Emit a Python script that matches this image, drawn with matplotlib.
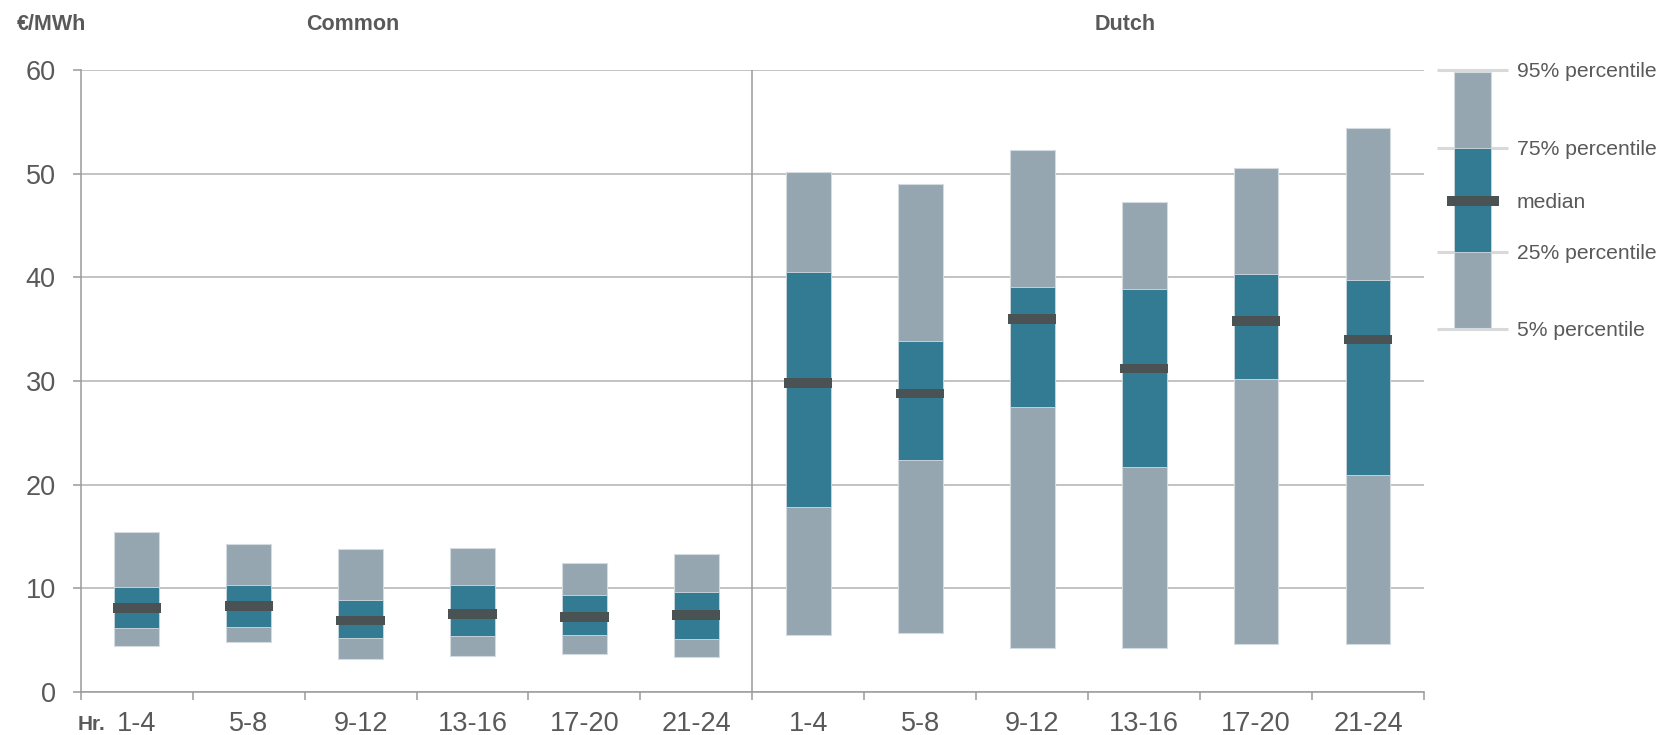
import matplotlib
matplotlib.use("Agg")
import matplotlib.pyplot as plt
import numpy as np

plt.rcParams['font.family'] = ['Liberation Sans', 'DejaVu Sans']

# Hour blocks and price percentiles (EUR/MWh)
hour_blocks = ["1-4", "5-8", "9-12", "13-16", "17-20", "21-24"]
groups = ["Common", "Dutch"]

common_p5 = [4.4, 4.8, 3.2, 3.5, 3.7, 3.4]
common_p25 = [6.2, 6.3, 5.2, 5.4, 5.5, 5.1]
common_med = [8.1, 8.3, 6.9, 7.5, 7.2, 7.4]
common_p75 = [10.1, 10.3, 8.9, 10.3, 9.4, 9.6]
common_p95 = [15.4, 14.3, 13.8, 13.9, 12.4, 13.3]

dutch_p5 = [5.5, 5.7, 4.2, 4.2, 4.6, 4.6]
dutch_p25 = [17.8, 22.4, 27.5, 21.7, 30.2, 20.9]
dutch_med = [29.8, 28.8, 36.0, 31.2, 35.8, 34.0]
dutch_p75 = [40.5, 33.9, 39.1, 38.9, 40.3, 39.7]
dutch_p95 = [50.2, 49.0, 52.3, 47.3, 50.5, 54.4]

legend_labels = ["95% percentile", "75% percentile", "median", "25% percentile", "5% percentile"]

LIGHT = "#95A6B0"
TEAL = "#337A93"
MEDIAN = "#4A5254"
EDGE = "#D3DBE0"
GRID = "#B3B3B3"
AXIS = "#9A9A9A"
TEXT = "#595959"

p5 = np.array(common_p5 + dutch_p5)
p25 = np.array(common_p25 + dutch_p25)
med = np.array(common_med + dutch_med)
p75 = np.array(common_p75 + dutch_p75)
p95 = np.array(common_p95 + dutch_p95)
labels = hour_blocks * 2
x = np.arange(len(labels))

W, H = 1662, 735
fig = plt.figure(figsize=(W / 100, H / 100), dpi=100)
ax_l, ax_r, ax_b, ax_t = 80.7, 1424, 692, 70
ax = fig.add_axes([ax_l / W, 1 - ax_b / H, (ax_r - ax_l) / W, (ax_b - ax_t) / H])

bar_w = 0.40
med_w = 0.43
med_h = 0.95

# outer (5-95%) bars
ax.bar(x, p95 - p5, bottom=p5, width=bar_w, color=LIGHT, edgecolor=EDGE,
       linewidth=0.8, zorder=3)
# inter-quartile bars
ax.bar(x, p75 - p25, bottom=p25, width=bar_w, color=TEAL, edgecolor=EDGE,
       linewidth=0.6, zorder=4)
# median markers
ax.bar(x, med_h, bottom=med - med_h / 2, width=med_w, color=MEDIAN,
       linewidth=0, zorder=5)

ax.set_xlim(-0.5, len(labels) - 0.5)
ax.set_ylim(0, 60)
ax.set_yticks(np.arange(0, 61, 10))
ax.yaxis.grid(True, color=GRID, linewidth=1.1, zorder=0)
ax.set_axisbelow(True)

# section divider
ax.axvline(5.5, color=AXIS, linewidth=1.1, zorder=2)

for s in ["top", "right"]:
    ax.spines[s].set_visible(False)
for s in ["left", "bottom"]:
    ax.spines[s].set_color(AXIS)
    ax.spines[s].set_linewidth(1.1)

# category boundaries as major ticks, labels at category centres
ax.set_xticks(np.arange(-0.5, len(labels), 1.0))
ax.set_xticklabels([])
ax.set_xticks(x, minor=True)
ax.set_xticklabels(labels, minor=True)
ax.tick_params(axis="x", which="major", length=6, width=1.1, color=AXIS, direction="out")
ax.tick_params(axis="x", which="minor", length=0, pad=14, labelsize=19.5, labelcolor=TEXT)
ax.tick_params(axis="y", length=6, width=1.1, color=AXIS, pad=12, labelsize=19.5,
               labelcolor=TEXT)

# titles and unit labels
fig.text(17 / W, 1 - 24 / H, "€/MWh", fontsize=15.5, fontweight="bold", color=TEXT,
         ha="left", va="center")
fig.text(353 / W, 1 - 24 / H, groups[0], fontsize=15.5, fontweight="bold", color=TEXT,
         ha="center", va="center")
fig.text(1125 / W, 1 - 24 / H, groups[1], fontsize=15.5, fontweight="bold", color=TEXT,
         ha="center", va="center")
fig.text(78 / W, 1 - 725 / H, "Hr.", fontsize=15, fontweight="bold", color=TEXT,
         ha="left", va="center")

# legend key drawn on its own axes sharing the value scale
lg_l, lg_r = 1437, 1508
lax = fig.add_axes([lg_l / W, 1 - ax_b / H, (lg_r - lg_l) / W, (ax_b - ax_t) / H])
lax.set_xlim(0, 1)
lax.set_ylim(0, 60)
lax.axis("off")
key_levels = [60.0, 52.45, 47.4, 42.4, 34.98]
for lvl, lab in zip(key_levels, legend_labels):
    if lab != "median":
        lax.plot([0, 1], [lvl, lvl], color="#D9D9D9", linewidth=2.2, zorder=1,
                 solid_capstyle="butt", clip_on=False)
    fig.text(1517 / W, 1 - (ax_b - lvl / 60 * (ax_b - ax_t) + 1.5) / H, lab, fontsize=15.2,
             color=TEXT, ha="left", va="center")
kb_l, kb_r = (1454 - lg_l) / (lg_r - lg_l), (1491 - lg_l) / (lg_r - lg_l)
lax.bar((kb_l + kb_r) / 2, key_levels[0] - key_levels[4] - 0.3, bottom=key_levels[4] + 0.15,
        width=kb_r - kb_l, color=LIGHT, edgecolor=EDGE, linewidth=0.8, zorder=2)
lax.bar((kb_l + kb_r) / 2, key_levels[1] - key_levels[3], bottom=key_levels[3],
        width=kb_r - kb_l, color=TEAL, edgecolor=EDGE, linewidth=0.6, zorder=3)
km_l, km_r = (1446.7 - lg_l) / (lg_r - lg_l), (1499 - lg_l) / (lg_r - lg_l)
lax.bar((km_l + km_r) / 2, med_h, bottom=key_levels[2] - med_h / 2, width=km_r - km_l,
        color=MEDIAN, linewidth=0, zorder=4)

fig.savefig("out.png", dpi=100)
